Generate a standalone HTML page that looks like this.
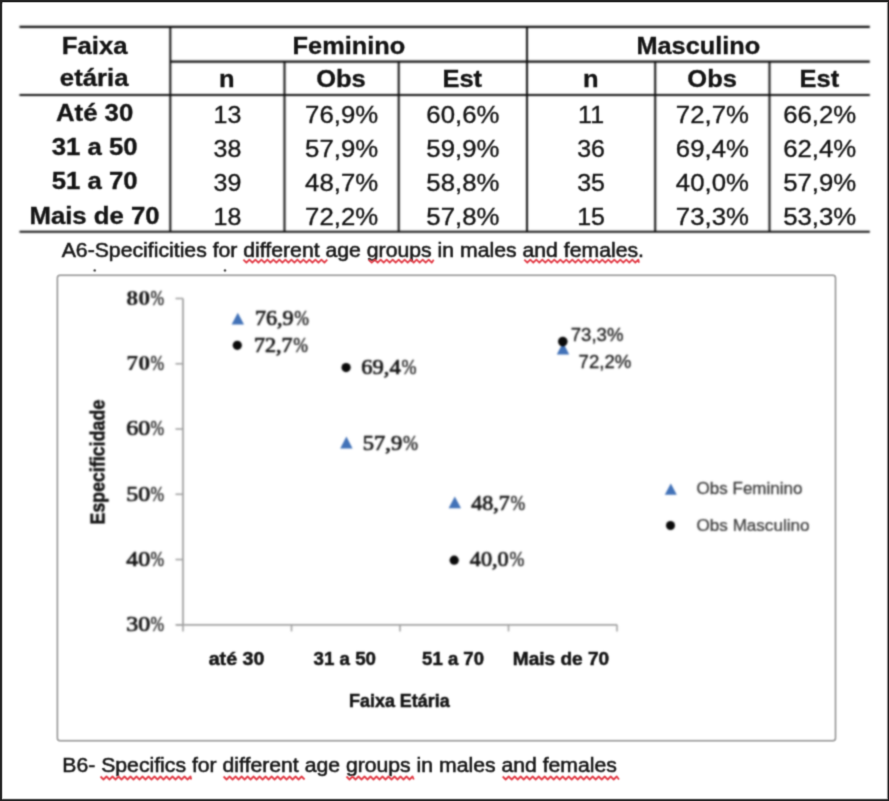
<!DOCTYPE html>
<html lang="pt"><head><meta charset="utf-8"><title>Specificity by age group</title>
<style>
html,body{margin:0;padding:0;background:#fff;}
body{width:889px;height:801px;overflow:hidden;position:relative;font-family:"Liberation Sans",sans-serif;}
svg{position:absolute;left:0;top:0;display:block;}
text{white-space:pre;}
</style></head><body>
<svg width="889" height="801" viewBox="0 0 889 801">
<defs><filter id="bll" x="0" y="0" width="889" height="801" filterUnits="userSpaceOnUse" color-interpolation-filters="sRGB"><feConvolveMatrix order="7" kernelMatrix="0.00001 0.00013 0.00069 0.00121 0.00069 0.00013 0.00001 0.00013 0.00210 0.01105 0.01923 0.01105 0.00210 0.00013 0.00069 0.01105 0.05825 0.10136 0.05825 0.01105 0.00069 0.00121 0.01923 0.10136 0.17639 0.10136 0.01923 0.00121 0.00069 0.01105 0.05825 0.10136 0.05825 0.01105 0.00069 0.00013 0.00210 0.01105 0.01923 0.01105 0.00210 0.00013 0.00001 0.00013 0.00069 0.00121 0.00069 0.00013 0.00001" divisor="1" edgeMode="none" preserveAlpha="false"/></filter><filter id="bl" x="0" y="0" width="889" height="801" filterUnits="userSpaceOnUse" color-interpolation-filters="sRGB"><feConvolveMatrix order="5" kernelMatrix="0.00003 0.00101 0.00331 0.00101 0.00003 0.00101 0.03529 0.11525 0.03529 0.00101 0.00331 0.11525 0.37636 0.11525 0.00331 0.00101 0.03529 0.11525 0.03529 0.00101 0.00003 0.00101 0.00331 0.00101 0.00003" divisor="1" edgeMode="none" preserveAlpha="false"/></filter><filter id="bl2" x="0" y="0" width="889" height="801" filterUnits="userSpaceOnUse" color-interpolation-filters="sRGB"><feConvolveMatrix order="7" kernelMatrix="0.00001 0.00013 0.00069 0.00121 0.00069 0.00013 0.00001 0.00013 0.00210 0.01105 0.01923 0.01105 0.00210 0.00013 0.00069 0.01105 0.05825 0.10136 0.05825 0.01105 0.00069 0.00121 0.01923 0.10136 0.17639 0.10136 0.01923 0.00121 0.00069 0.01105 0.05825 0.10136 0.05825 0.01105 0.00069 0.00013 0.00210 0.01105 0.01923 0.01105 0.00210 0.00013 0.00001 0.00013 0.00069 0.00121 0.00069 0.00013 0.00001" divisor="1" edgeMode="none" preserveAlpha="false"/></filter><filter id="bl3" x="0" y="0" width="889" height="801" filterUnits="userSpaceOnUse" color-interpolation-filters="sRGB"><feConvolveMatrix order="5" kernelMatrix="0.00023 0.00332 0.00809 0.00332 0.00023 0.00332 0.04785 0.11640 0.04785 0.00332 0.00809 0.11640 0.28313 0.11640 0.00809 0.00332 0.04785 0.11640 0.04785 0.00332 0.00023 0.00332 0.00809 0.00332 0.00023" divisor="1" edgeMode="none" preserveAlpha="false"/></filter></defs>
<rect x="0" y="0" width="889" height="801" fill="#fff"/>
<g filter="url(#bll)">
<line x1="19.5" y1="26.9" x2="869.8" y2="26.9" stroke="#101010" stroke-width="2.1"/>
<line x1="170.3" y1="61.6" x2="869.8" y2="61.6" stroke="#101010" stroke-width="2.1"/>
<line x1="19.5" y1="95.0" x2="869.8" y2="95.0" stroke="#101010" stroke-width="2.1"/>
<line x1="19.5" y1="231.7" x2="869.8" y2="231.7" stroke="#101010" stroke-width="2.1"/>
<line x1="170.3" y1="26.9" x2="170.3" y2="231.7" stroke="#101010" stroke-width="2.0"/>
<line x1="284.5" y1="61.6" x2="284.5" y2="231.7" stroke="#101010" stroke-width="2.0"/>
<line x1="398.7" y1="61.6" x2="398.7" y2="231.7" stroke="#101010" stroke-width="2.0"/>
<line x1="527.0" y1="26.9" x2="527.0" y2="231.7" stroke="#101010" stroke-width="2.0"/>
<line x1="655.2" y1="61.6" x2="655.2" y2="231.7" stroke="#101010" stroke-width="2.0"/>
<line x1="769.5" y1="61.6" x2="769.5" y2="231.7" stroke="#101010" stroke-width="2.0"/>
</g>
<g filter="url(#bl)">
<text transform="translate(61.78,54.20) scale(1.0300,0.9700)" font-family='"Liberation Sans", sans-serif' font-size="25" font-weight="bold" fill="#141414" stroke="#141414" stroke-width="0.35">Faixa</text>
<text transform="translate(59.86,86.20) scale(1.0300,0.9700)" font-family='"Liberation Sans", sans-serif' font-size="25" font-weight="bold" fill="#141414" stroke="#141414" stroke-width="0.35">etária</text>
<text transform="translate(292.61,54.10) scale(1.0140,0.9700)" font-family='"Liberation Sans", sans-serif' font-size="25" font-weight="bold" fill="#141414" stroke="#141414" stroke-width="0.35">Feminino</text>
<text transform="translate(636.42,54.10) scale(1.0140,0.9700)" font-family='"Liberation Sans", sans-serif' font-size="25" font-weight="bold" fill="#141414" stroke="#141414" stroke-width="0.35">Masculino</text>
<text transform="translate(219.02,87.40) scale(1.0200,0.9700)" font-family='"Liberation Sans", sans-serif' font-size="25" font-weight="bold" fill="#141414" stroke="#141414" stroke-width="0.35">n</text>
<text transform="translate(316.20,87.40) scale(1.0200,0.9700)" font-family='"Liberation Sans", sans-serif' font-size="25" font-weight="bold" fill="#141414" stroke="#141414" stroke-width="0.35">Obs</text>
<text transform="translate(442.42,87.40) scale(1.0200,0.9700)" font-family='"Liberation Sans", sans-serif' font-size="25" font-weight="bold" fill="#141414" stroke="#141414" stroke-width="0.35">Est</text>
<text transform="translate(583.12,87.40) scale(1.0200,0.9700)" font-family='"Liberation Sans", sans-serif' font-size="25" font-weight="bold" fill="#141414" stroke="#141414" stroke-width="0.35">n</text>
<text transform="translate(687.35,87.40) scale(1.0200,0.9700)" font-family='"Liberation Sans", sans-serif' font-size="25" font-weight="bold" fill="#141414" stroke="#141414" stroke-width="0.35">Obs</text>
<text transform="translate(799.62,87.40) scale(1.0200,0.9700)" font-family='"Liberation Sans", sans-serif' font-size="25" font-weight="bold" fill="#141414" stroke="#141414" stroke-width="0.35">Est</text>
<text transform="translate(55.97,120.60) scale(1.0300,0.9700)" font-family='"Liberation Sans", sans-serif' font-size="25" font-weight="bold" fill="#141414" stroke="#141414" stroke-width="0.35">Até 30</text>
<text transform="translate(213.53,123.30) scale(1.0000,0.9700)" font-family='"Liberation Sans", sans-serif' font-size="25" font-weight="normal" fill="#141414" stroke="#141414" stroke-width="0.35">13</text>
<text transform="translate(305.10,123.30) scale(1.0300,0.9700)" font-family='"Liberation Sans", sans-serif' font-size="25" font-weight="normal" fill="#141414" stroke="#141414" stroke-width="0.35">76,9%</text>
<text transform="translate(426.35,123.30) scale(1.0300,0.9700)" font-family='"Liberation Sans", sans-serif' font-size="25" font-weight="normal" fill="#141414" stroke="#141414" stroke-width="0.35">60,6%</text>
<text transform="translate(578.10,123.30) scale(1.0000,0.9700)" font-family='"Liberation Sans", sans-serif' font-size="25" font-weight="normal" fill="#141414" stroke="#141414" stroke-width="0.35">11</text>
<text transform="translate(675.85,123.30) scale(1.0300,0.9700)" font-family='"Liberation Sans", sans-serif' font-size="25" font-weight="normal" fill="#141414" stroke="#141414" stroke-width="0.35">72,7%</text>
<text transform="translate(783.15,123.30) scale(1.0300,0.9700)" font-family='"Liberation Sans", sans-serif' font-size="25" font-weight="normal" fill="#141414" stroke="#141414" stroke-width="0.35">66,2%</text>
<text transform="translate(51.66,155.20) scale(1.0300,0.9700)" font-family='"Liberation Sans", sans-serif' font-size="25" font-weight="bold" fill="#141414" stroke="#141414" stroke-width="0.35">31 a 50</text>
<text transform="translate(213.53,157.40) scale(1.0000,0.9700)" font-family='"Liberation Sans", sans-serif' font-size="25" font-weight="normal" fill="#141414" stroke="#141414" stroke-width="0.35">38</text>
<text transform="translate(305.10,157.40) scale(1.0300,0.9700)" font-family='"Liberation Sans", sans-serif' font-size="25" font-weight="normal" fill="#141414" stroke="#141414" stroke-width="0.35">57,9%</text>
<text transform="translate(426.35,157.40) scale(1.0300,0.9700)" font-family='"Liberation Sans", sans-serif' font-size="25" font-weight="normal" fill="#141414" stroke="#141414" stroke-width="0.35">59,9%</text>
<text transform="translate(577.23,157.40) scale(1.0000,0.9700)" font-family='"Liberation Sans", sans-serif' font-size="25" font-weight="normal" fill="#141414" stroke="#141414" stroke-width="0.35">36</text>
<text transform="translate(675.85,157.40) scale(1.0300,0.9700)" font-family='"Liberation Sans", sans-serif' font-size="25" font-weight="normal" fill="#141414" stroke="#141414" stroke-width="0.35">69,4%</text>
<text transform="translate(783.15,157.40) scale(1.0300,0.9700)" font-family='"Liberation Sans", sans-serif' font-size="25" font-weight="normal" fill="#141414" stroke="#141414" stroke-width="0.35">62,4%</text>
<text transform="translate(51.66,189.30) scale(1.0300,0.9700)" font-family='"Liberation Sans", sans-serif' font-size="25" font-weight="bold" fill="#141414" stroke="#141414" stroke-width="0.35">51 a 70</text>
<text transform="translate(213.53,191.40) scale(1.0000,0.9700)" font-family='"Liberation Sans", sans-serif' font-size="25" font-weight="normal" fill="#141414" stroke="#141414" stroke-width="0.35">39</text>
<text transform="translate(305.10,191.40) scale(1.0300,0.9700)" font-family='"Liberation Sans", sans-serif' font-size="25" font-weight="normal" fill="#141414" stroke="#141414" stroke-width="0.35">48,7%</text>
<text transform="translate(426.35,191.40) scale(1.0300,0.9700)" font-family='"Liberation Sans", sans-serif' font-size="25" font-weight="normal" fill="#141414" stroke="#141414" stroke-width="0.35">58,8%</text>
<text transform="translate(577.23,191.40) scale(1.0000,0.9700)" font-family='"Liberation Sans", sans-serif' font-size="25" font-weight="normal" fill="#141414" stroke="#141414" stroke-width="0.35">35</text>
<text transform="translate(675.85,191.40) scale(1.0300,0.9700)" font-family='"Liberation Sans", sans-serif' font-size="25" font-weight="normal" fill="#141414" stroke="#141414" stroke-width="0.35">40,0%</text>
<text transform="translate(783.15,191.40) scale(1.0300,0.9700)" font-family='"Liberation Sans", sans-serif' font-size="25" font-weight="normal" fill="#141414" stroke="#141414" stroke-width="0.35">57,9%</text>
<text transform="translate(29.45,223.60) scale(1.0300,0.9700)" font-family='"Liberation Sans", sans-serif' font-size="25" font-weight="bold" fill="#141414" stroke="#141414" stroke-width="0.35">Mais de 70</text>
<text transform="translate(213.53,225.30) scale(1.0000,0.9700)" font-family='"Liberation Sans", sans-serif' font-size="25" font-weight="normal" fill="#141414" stroke="#141414" stroke-width="0.35">18</text>
<text transform="translate(305.10,225.30) scale(1.0300,0.9700)" font-family='"Liberation Sans", sans-serif' font-size="25" font-weight="normal" fill="#141414" stroke="#141414" stroke-width="0.35">72,2%</text>
<text transform="translate(426.35,225.30) scale(1.0300,0.9700)" font-family='"Liberation Sans", sans-serif' font-size="25" font-weight="normal" fill="#141414" stroke="#141414" stroke-width="0.35">57,8%</text>
<text transform="translate(577.23,225.30) scale(1.0000,0.9700)" font-family='"Liberation Sans", sans-serif' font-size="25" font-weight="normal" fill="#141414" stroke="#141414" stroke-width="0.35">15</text>
<text transform="translate(675.85,225.30) scale(1.0300,0.9700)" font-family='"Liberation Sans", sans-serif' font-size="25" font-weight="normal" fill="#141414" stroke="#141414" stroke-width="0.35">73,3%</text>
<text transform="translate(783.15,225.30) scale(1.0300,0.9700)" font-family='"Liberation Sans", sans-serif' font-size="25" font-weight="normal" fill="#141414" stroke="#141414" stroke-width="0.35">53,3%</text>
<text transform="translate(61.70,256.60) scale(1.0105,1.0000)" font-family='"Liberation Sans", sans-serif' font-size="21" font-weight="normal" fill="#161616" stroke="#161616" stroke-width="0.55">A6-Specificities for different age groups in males and females.</text>
<text transform="translate(62.30,771.70) scale(1.0101,1.0000)" font-family='"Liberation Sans", sans-serif' font-size="21" font-weight="normal" fill="#161616" stroke="#161616" stroke-width="0.55">B6- Specifics for different age groups in males and females</text>
</g>
<g filter="url(#bl)">
<path d="M243.4,259.7 L246.4,262.7 L249.4,259.7 L252.4,262.7 L255.4,259.7 L258.4,262.7 L261.4,259.7 L264.4,262.7 L267.4,259.7 L270.4,262.7 L273.4,259.7 L276.4,262.7 L279.4,259.7 L282.4,262.7 L285.4,259.7 L288.4,262.7 L291.4,259.7 L294.4,262.7 L297.4,259.7 L300.4,262.7 L303.4,259.7 L306.4,262.7 L309.4,259.7 L312.4,262.7 L315.4,259.7 L318.4,262.7 L321.4,259.7 L324.4,262.7 L327.3,259.7" fill="none" stroke="#e23a45" stroke-width="1.8" stroke-linejoin="round"/>
<path d="M368.7,259.7 L371.7,262.7 L374.7,259.7 L377.7,262.7 L380.7,259.7 L383.7,262.7 L386.7,259.7 L389.7,262.7 L392.7,259.7 L395.7,262.7 L398.7,259.7 L401.7,262.7 L404.7,259.7 L407.7,262.7 L410.7,259.7 L413.7,262.7 L416.7,259.7 L419.7,262.7 L422.7,259.7 L425.7,262.7 L428.7,259.7 L431.7,262.7 L433.7,259.7" fill="none" stroke="#e23a45" stroke-width="1.8" stroke-linejoin="round"/>
<path d="M524.3,259.7 L527.3,262.7 L530.3,259.7 L533.3,262.7 L536.3,259.7 L539.3,262.7 L542.3,259.7 L545.3,262.7 L548.3,259.7 L551.3,262.7 L554.3,259.7 L557.3,262.7 L560.3,259.7 L563.3,262.7 L566.3,259.7 L569.3,262.7 L572.3,259.7 L575.3,262.7 L578.3,259.7 L581.3,262.7 L584.3,259.7 L587.3,262.7 L590.3,259.7 L593.3,262.7 L596.3,259.7 L599.3,262.7 L602.3,259.7 L605.3,262.7 L608.3,259.7 L611.3,262.7 L614.3,259.7 L617.3,262.7 L620.3,259.7 L623.3,262.7 L626.3,259.7 L629.3,262.7 L632.3,259.7 L635.3,262.7 L638.3,259.7 L639.0,262.7" fill="none" stroke="#e23a45" stroke-width="1.8" stroke-linejoin="round"/>
<path d="M100.5,776.5 L103.5,779.5 L106.5,776.5 L109.5,779.5 L112.5,776.5 L115.5,779.5 L118.5,776.5 L121.5,779.5 L124.5,776.5 L127.5,779.5 L130.5,776.5 L133.5,779.5 L136.5,776.5 L139.5,779.5 L142.5,776.5 L145.5,779.5 L148.5,776.5 L151.5,779.5 L154.5,776.5 L157.5,779.5 L160.5,776.5 L163.5,779.5 L166.5,776.5 L169.5,779.5 L172.5,776.5 L175.5,779.5 L178.5,776.5 L181.5,779.5 L184.5,776.5 L187.5,779.5 L190.5,776.5 L191.2,779.5" fill="none" stroke="#e23a45" stroke-width="1.8" stroke-linejoin="round"/>
<path d="M223.6,776.5 L226.6,779.5 L229.6,776.5 L232.6,779.5 L235.6,776.5 L238.6,779.5 L241.6,776.5 L244.6,779.5 L247.6,776.5 L250.6,779.5 L253.6,776.5 L256.6,779.5 L259.6,776.5 L262.6,779.5 L265.6,776.5 L268.6,779.5 L271.6,776.5 L274.6,779.5 L277.6,776.5 L280.6,779.5 L283.6,776.5 L286.6,779.5 L289.6,776.5 L292.6,779.5 L295.6,776.5 L298.6,779.5 L301.6,776.5 L304.6,779.5" fill="none" stroke="#e23a45" stroke-width="1.8" stroke-linejoin="round"/>
<path d="M346.5,776.5 L349.5,779.5 L352.5,776.5 L355.5,779.5 L358.5,776.5 L361.5,779.5 L364.5,776.5 L367.5,779.5 L370.5,776.5 L373.5,779.5 L376.5,776.5 L379.5,779.5 L382.5,776.5 L385.5,779.5 L388.5,776.5 L391.5,779.5 L394.5,776.5 L397.5,779.5 L400.5,776.5 L403.5,779.5 L406.5,776.5 L409.5,779.5 L412.5,776.5 L413.8,779.5" fill="none" stroke="#e23a45" stroke-width="1.8" stroke-linejoin="round"/>
<path d="M502.7,776.5 L505.7,779.5 L508.7,776.5 L511.7,779.5 L514.7,776.5 L517.7,779.5 L520.7,776.5 L523.7,779.5 L526.7,776.5 L529.7,779.5 L532.7,776.5 L535.7,779.5 L538.7,776.5 L541.7,779.5 L544.7,776.5 L547.7,779.5 L550.7,776.5 L553.7,779.5 L556.7,776.5 L559.7,779.5 L562.7,776.5 L565.7,779.5 L568.7,776.5 L571.7,779.5 L574.7,776.5 L577.7,779.5 L580.7,776.5 L583.7,779.5 L586.7,776.5 L589.7,779.5 L592.7,776.5 L595.7,779.5 L598.7,776.5 L601.7,779.5 L604.7,776.5 L607.7,779.5 L610.7,776.5 L613.7,779.5 L616.7,776.5 L619.0,779.5" fill="none" stroke="#e23a45" stroke-width="1.8" stroke-linejoin="round"/>
<circle cx="94.7" cy="270.4" r="1.2" fill="#333"/><circle cx="225" cy="270.4" r="1.2" fill="#333"/>
<rect x="57.4" y="275.2" width="778.1" height="465.5" rx="2.8" fill="#fff" stroke="#acacac" stroke-width="2"/>
</g>
<g filter="url(#bl2)">
<line x1="183.0" y1="298.5" x2="183.0" y2="624.8" stroke="#a2a2a2" stroke-width="1.8"/>
<line x1="176" y1="624.8" x2="617.0" y2="624.8" stroke="#a2a2a2" stroke-width="1.8"/>
<line x1="175.5" y1="624.8" x2="183.0" y2="624.8" stroke="#a2a2a2" stroke-width="1.6"/>
<line x1="175.5" y1="559.54" x2="183.0" y2="559.54" stroke="#a2a2a2" stroke-width="1.6"/>
<line x1="175.5" y1="494.28" x2="183.0" y2="494.28" stroke="#a2a2a2" stroke-width="1.6"/>
<line x1="175.5" y1="429.02" x2="183.0" y2="429.02" stroke="#a2a2a2" stroke-width="1.6"/>
<line x1="175.5" y1="363.76" x2="183.0" y2="363.76" stroke="#a2a2a2" stroke-width="1.6"/>
<line x1="175.5" y1="298.5" x2="183.0" y2="298.5" stroke="#a2a2a2" stroke-width="1.6"/>
<line x1="183.0" y1="624.8" x2="183.0" y2="631.4" stroke="#a2a2a2" stroke-width="1.6"/>
<line x1="291.5" y1="624.8" x2="291.5" y2="631.4" stroke="#a2a2a2" stroke-width="1.6"/>
<line x1="400.0" y1="624.8" x2="400.0" y2="631.4" stroke="#a2a2a2" stroke-width="1.6"/>
<line x1="508.5" y1="624.8" x2="508.5" y2="631.4" stroke="#a2a2a2" stroke-width="1.6"/>
<line x1="617.0" y1="624.8" x2="617.0" y2="631.4" stroke="#a2a2a2" stroke-width="1.6"/>
<text transform="translate(126.20,631.10) scale(1.0882,0.9300)" font-family='"Liberation Serif", serif' font-size="22" font-weight="normal" fill="#161616" stroke="#161616" stroke-width="0.8">30</text>
<text transform="translate(150.60,631.10) scale(0.8569,1.0800)" font-family='"Liberation Serif", serif' font-size="19" font-weight="normal" fill="#2c2c2c" stroke="#2c2c2c" stroke-width="0.45">%</text>
<text transform="translate(126.20,565.84) scale(1.0882,0.9300)" font-family='"Liberation Serif", serif' font-size="22" font-weight="normal" fill="#161616" stroke="#161616" stroke-width="0.8">40</text>
<text transform="translate(150.60,565.84) scale(0.8569,1.0800)" font-family='"Liberation Serif", serif' font-size="19" font-weight="normal" fill="#2c2c2c" stroke="#2c2c2c" stroke-width="0.45">%</text>
<text transform="translate(126.20,500.58) scale(1.0882,0.9300)" font-family='"Liberation Serif", serif' font-size="22" font-weight="normal" fill="#161616" stroke="#161616" stroke-width="0.8">50</text>
<text transform="translate(150.60,500.58) scale(0.8569,1.0800)" font-family='"Liberation Serif", serif' font-size="19" font-weight="normal" fill="#2c2c2c" stroke="#2c2c2c" stroke-width="0.45">%</text>
<text transform="translate(126.20,435.32) scale(1.0882,0.9300)" font-family='"Liberation Serif", serif' font-size="22" font-weight="normal" fill="#161616" stroke="#161616" stroke-width="0.8">60</text>
<text transform="translate(150.60,435.32) scale(0.8569,1.0800)" font-family='"Liberation Serif", serif' font-size="19" font-weight="normal" fill="#2c2c2c" stroke="#2c2c2c" stroke-width="0.45">%</text>
<text transform="translate(126.20,370.06) scale(1.0882,0.9300)" font-family='"Liberation Serif", serif' font-size="22" font-weight="bold" fill="#161616">70</text>
<text transform="translate(150.60,370.06) scale(0.8569,1.0800)" font-family='"Liberation Serif", serif' font-size="19" font-weight="normal" fill="#2c2c2c" stroke="#2c2c2c" stroke-width="0.45">%</text>
<text transform="translate(126.20,304.80) scale(1.0882,0.9300)" font-family='"Liberation Serif", serif' font-size="22" font-weight="bold" fill="#161616">80</text>
<text transform="translate(150.60,304.80) scale(0.8569,1.0800)" font-family='"Liberation Serif", serif' font-size="19" font-weight="normal" fill="#2c2c2c" stroke="#2c2c2c" stroke-width="0.45">%</text>
</g>
<g filter="url(#bl3)">
<text transform="translate(208.70,665.00) scale(1.0339,1.0000)" font-family='"Liberation Sans", sans-serif' font-size="19" font-weight="bold" fill="#141414" stroke="#111" stroke-width="0.5">até 30</text>
<text transform="translate(313.60,665.00) scale(0.9846,1.0000)" font-family='"Liberation Sans", sans-serif' font-size="19" font-weight="bold" fill="#141414" stroke="#111" stroke-width="0.5">31 a 50</text>
<text transform="translate(422.10,665.00) scale(0.9767,1.0000)" font-family='"Liberation Sans", sans-serif' font-size="19" font-weight="bold" fill="#141414" stroke="#111" stroke-width="0.5">51 a 70</text>
<text transform="translate(512.80,665.00) scale(1.0039,1.0000)" font-family='"Liberation Sans", sans-serif' font-size="19" font-weight="bold" fill="#141414" stroke="#111" stroke-width="0.5">Mais de 70</text>
<text transform="translate(349.00,707.30) scale(0.9968,1.0000)" font-family='"Liberation Sans", sans-serif' font-size="18" font-weight="bold" fill="#141414" stroke="#111" stroke-width="0.5">Faixa Etária</text>
<text transform="translate(104.9,524.60) rotate(-90) scale(0.9911,1.08)" font-family='"Liberation Sans", sans-serif' font-size="18" font-weight="bold" fill="#141414" stroke="#141414" stroke-width="0.5">Especificidade</text>
</g>
<g filter="url(#bl2)">
<path d="M231.6,324.6 L237.8,312.8 L244.0,324.6 Z" fill="#4272b8"/>
<circle cx="237.3" cy="345.3" r="4.6" fill="#0a0a0a"/>
<circle cx="346.1" cy="367.6" r="4.6" fill="#0a0a0a"/>
<path d="M340.2,448.4 L346.4,436.6 L352.6,448.4 Z" fill="#4272b8"/>
<path d="M448.6,508.3 L454.8,496.5 L461.0,508.3 Z" fill="#4272b8"/>
<circle cx="454.2" cy="560.2" r="4.6" fill="#0a0a0a"/>
<path d="M556.8,354.4 L563.0,342.6 L569.2,354.4 Z" fill="#4272b8"/>
<circle cx="562.8" cy="341.6" r="4.8" fill="#0a0a0a"/>
<text transform="translate(254.90,324.80) scale(1.0047,0.9300)" font-family='"Liberation Serif", serif' font-size="22" font-weight="normal" fill="#161616" stroke="#161616" stroke-width="0.75">76,9</text>
<text transform="translate(294.23,324.80) scale(0.9303,1.0800)" font-family='"Liberation Serif", serif' font-size="19" font-weight="normal" fill="#2c2c2c" stroke="#2c2c2c" stroke-width="0.45">%</text>
<text transform="translate(253.90,352.10) scale(1.0047,0.9300)" font-family='"Liberation Serif", serif' font-size="22" font-weight="normal" fill="#161616" stroke="#161616" stroke-width="0.75">72,7</text>
<text transform="translate(293.23,352.10) scale(0.9303,1.0800)" font-family='"Liberation Serif", serif' font-size="19" font-weight="normal" fill="#2c2c2c" stroke="#2c2c2c" stroke-width="0.45">%</text>
<text transform="translate(361.30,373.90) scale(1.0251,0.9300)" font-family='"Liberation Serif", serif' font-size="22" font-weight="normal" fill="#161616" stroke="#161616" stroke-width="0.75">69,4</text>
<text transform="translate(401.43,373.90) scale(0.9493,1.0800)" font-family='"Liberation Serif", serif' font-size="19" font-weight="normal" fill="#2c2c2c" stroke="#2c2c2c" stroke-width="0.45">%</text>
<text transform="translate(362.80,450.00) scale(1.0251,0.9300)" font-family='"Liberation Serif", serif' font-size="22" font-weight="normal" fill="#161616" stroke="#161616" stroke-width="0.75">57,9</text>
<text transform="translate(402.93,450.00) scale(0.9493,1.0800)" font-family='"Liberation Serif", serif' font-size="19" font-weight="normal" fill="#2c2c2c" stroke="#2c2c2c" stroke-width="0.45">%</text>
<text transform="translate(471.30,509.90) scale(1.0010,0.9300)" font-family='"Liberation Serif", serif' font-size="22" font-weight="normal" fill="#161616" stroke="#161616" stroke-width="0.75">48,7</text>
<text transform="translate(510.49,509.90) scale(0.9269,1.0800)" font-family='"Liberation Serif", serif' font-size="19" font-weight="normal" fill="#2c2c2c" stroke="#2c2c2c" stroke-width="0.45">%</text>
<text transform="translate(469.80,566.20) scale(1.0121,0.9300)" font-family='"Liberation Serif", serif' font-size="22" font-weight="normal" fill="#161616" stroke="#161616" stroke-width="0.75">40,0</text>
<text transform="translate(509.42,566.20) scale(0.9372,1.0800)" font-family='"Liberation Serif", serif' font-size="19" font-weight="normal" fill="#2c2c2c" stroke="#2c2c2c" stroke-width="0.45">%</text>
<text transform="translate(570.70,341.00) scale(1.0009,1.0000)" font-family='"Liberation Sans", sans-serif' font-size="18.6" font-weight="normal" fill="#141414" stroke="#222" stroke-width="0.3">73,3%</text>
<text transform="translate(578.60,368.20) scale(0.9991,1.0000)" font-family='"Liberation Sans", sans-serif' font-size="18.6" font-weight="normal" fill="#141414" stroke="#222" stroke-width="0.3">72,2%</text>
<path d="M664.8,494.8 L670.8,483.4 L676.8,494.8 Z" fill="#4272b8"/>
<circle cx="670.5" cy="525.5" r="4.5" fill="#0a0a0a"/>
<text transform="translate(696.60,493.60) scale(1.0244,1.0000)" font-family='"Liberation Sans", sans-serif' font-size="16.6" font-weight="normal" fill="#383838" stroke="#383838" stroke-width="0.25">Obs Feminino</text>
<text transform="translate(696.60,530.90) scale(1.0287,1.0000)" font-family='"Liberation Sans", sans-serif' font-size="16.6" font-weight="normal" fill="#383838" stroke="#383838" stroke-width="0.25">Obs Masculino</text>
</g>
<path d="M0,0 H889 V801 H0 Z M1.9,3.6 Q1.9,2.1 3.4,2.1 H887.6 V799.2 H1.9 Z" fill="#222" fill-rule="evenodd"/>
<path d="M2.3,4 Q2.3,2.5 3.8,2.5 H887.2 V798.8 H2.3 Z" fill="none" stroke="#222" stroke-opacity="0.35" stroke-width="0.8"/>
</svg>
</body></html>
